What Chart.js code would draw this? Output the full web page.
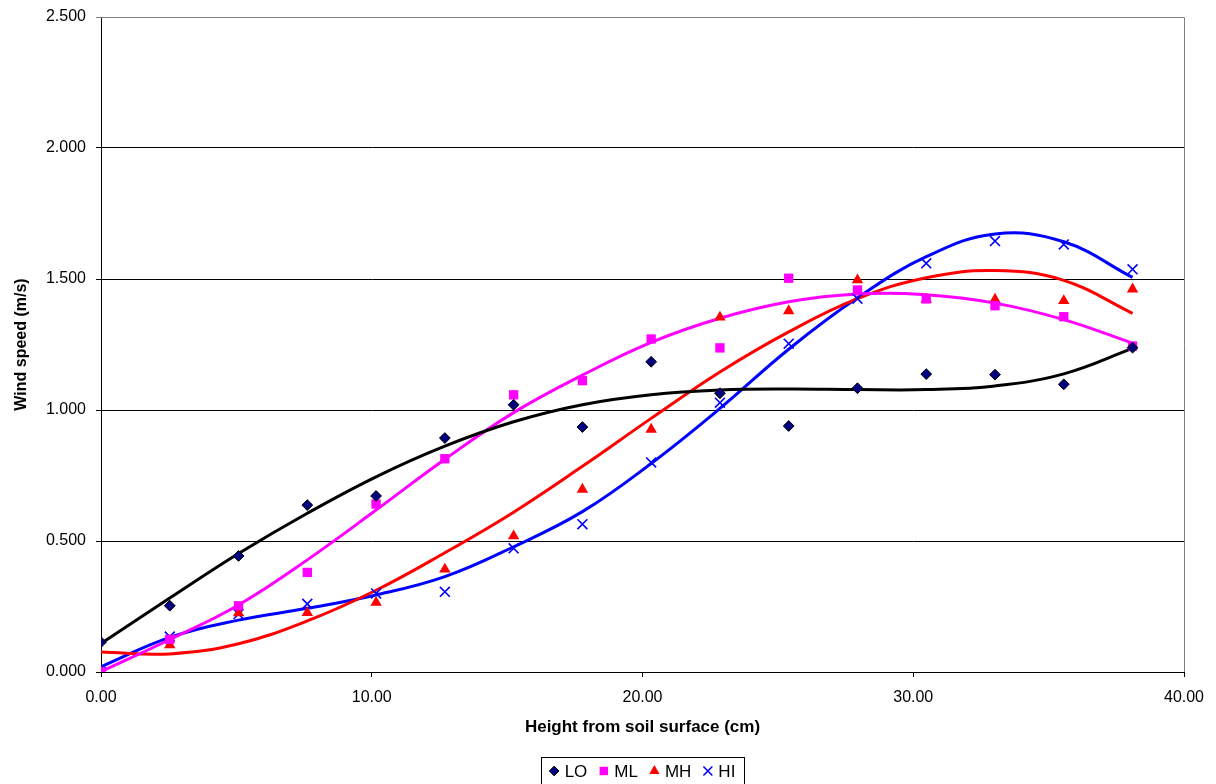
<!DOCTYPE html>
<html><head><meta charset="utf-8">
<script src="https://cdn.jsdelivr.net/npm/chart.js@4/dist/chart.umd.min.js"></script>
<style>html,body{margin:0;padding:0;background:#fff;overflow:hidden}</style>
</head><body>
<canvas id="c" width="1216" height="784" style="width:1216px;height:784px;display:block"></canvas>
<script>
// ---- data ----
const heights = [0, 2.54, 5.08, 7.62, 10.16, 12.70, 15.24, 17.78, 20.32, 22.86, 25.40, 27.94, 30.48, 33.02, 35.56, 38.10];
const seriesNames = ['LO', 'ML', 'MH', 'HI'];
const loValues = [0.114, 0.253, 0.443, 0.637, 0.672, 0.893, 1.020, 0.935, 1.184, 1.064, 0.939, 1.083, 1.137, 1.135, 1.098, 1.238];
const mlValues = [0.000, 0.125, 0.253, 0.380, 0.641, 0.814, 1.058, 1.112, 1.271, 1.237, 1.503, 1.458, 1.424, 1.398, 1.356, 1.244];
const mhValues = [0.000, 0.103, 0.225, 0.226, 0.265, 0.392, 0.519, 0.697, 0.926, 1.354, 1.378, 1.496, 1.422, 1.422, 1.417, 1.461];
const hiValues = [0.000, 0.135, 0.221, 0.260, 0.300, 0.306, 0.472, 0.564, 0.800, 1.028, 1.253, 1.425, 1.560, 1.645, 1.632, 1.537];
// trend lines at the same heights
const loTrend = [0.109, 0.282, 0.452, 0.606, 0.745, 0.862, 0.955, 1.020, 1.058, 1.076, 1.080, 1.078, 1.078, 1.092, 1.138, 1.235];
const mlTrend = [0.001, 0.124, 0.256, 0.428, 0.618, 0.812, 0.990, 1.133, 1.258, 1.350, 1.413, 1.443, 1.440, 1.408, 1.345, 1.255];
const mhTrend = [0.076, 0.069, 0.108, 0.195, 0.312, 0.455, 0.610, 0.785, 0.968, 1.145, 1.298, 1.425, 1.505, 1.532, 1.495, 1.369];
const hiTrend = [0.020, 0.132, 0.198, 0.243, 0.294, 0.364, 0.478, 0.612, 0.796, 1.006, 1.232, 1.428, 1.585, 1.672, 1.642, 1.506];
const xTicks = [0, 10, 20, 30, 40];
const yTicks = [0, 0.5, 1.0, 1.5, 2.0, 2.5];

const pts = v => heights.map((h, i) => ({x: h, y: v[i]}));

const styles = [
  {color: '#000000', fill: '#000080', border: '#000000', shape: 'rectRot', r: 5.4, bw: 1},
  {color: '#FF00FF', fill: '#FF00FF', border: '#FF00FF', shape: 'rect', r: 6.6, bw: 0},
  {color: '#FF0000', fill: '#FF0000', border: '#FF0000', shape: 'triangle', r: 6.6, bw: 0},
  {color: '#0000FF', fill: '#0000FF', border: '#0000FF', shape: 'crossRot', r: 7, bw: 1.6}
];
const values = [loValues, mlValues, mhValues, hiValues];
const trends = [loTrend, mlTrend, mhTrend, hiTrend];

const datasets = [];
trends.forEach((t, i) => datasets.push({
  label: seriesNames[i] + ' trend', isTrend: true, data: pts(t), showLine: true,
  borderColor: styles[i].color, borderWidth: 3, pointRadius: 0, tension: 0.4, order: 2, fill: false
}));
values.forEach((v, i) => datasets.push({
  label: seriesNames[i], data: pts(v), showLine: false, order: 1,
  pointStyle: styles[i].shape, pointRadius: styles[i].r, pointBackgroundColor: styles[i].fill,
  pointBorderColor: styles[i].border, pointBorderWidth: styles[i].bw
}));

Chart.defaults.font.family = '"Liberation Sans", Arial, sans-serif';
Chart.defaults.color = '#000';

const legendPlugin = {
  id: 'legendPlugin',
  afterDraw(chart) {
    const {ctx} = chart;
    ctx.save();
    const font = '17px "Liberation Sans", Arial, sans-serif';
    ctx.font = font;
    const items = datasets.filter(d => !d.isTrend);
    const markW = 11, gap = 5, spacing = 11;
    const widths = items.map(d => markW + gap + ctx.measureText(d.label).width);
    const total = widths.reduce((s, w) => s + w, 0) + spacing * (items.length - 1);
    const padX = 8;
    const cx = 642, cy = 771;
    let x = cx - total / 2;
    ctx.fillStyle = '#fff';
    ctx.fillRect(Math.round(x - padX), 757, Math.round(total + 2 * padX), 40);
    ctx.strokeStyle = '#000'; ctx.lineWidth = 1;
    ctx.strokeRect(Math.round(x - padX) + 0.5, 757.5, Math.round(total + 2 * padX), 40);
    items.forEach((d, i) => {
      const s = styles[i];
      ctx.save();
      ctx.fillStyle = s.fill; ctx.strokeStyle = s.border; ctx.lineWidth = s.bw || 0.01;
      Chart.helpers.drawPoint(ctx, {pointStyle: s.shape, radius: s.r * 0.9, borderWidth: s.bw}, x + markW / 2, cy);
      ctx.restore();
      ctx.fillStyle = '#000';
      ctx.textBaseline = 'middle'; ctx.textAlign = 'left';
      ctx.font = font;
      ctx.fillText(d.label, x + markW + gap, cy + 1);
      x += widths[i] + spacing;
    });
    ctx.restore();
  }
};

const borderPlugin = {
  id: 'borderPlugin',
  afterDraw(chart) {
    const {ctx, chartArea: a} = chart;
    ctx.save();
    ctx.strokeStyle = '#808080'; ctx.lineWidth = 1;
    ctx.beginPath();
    ctx.moveTo(a.left, a.top + 0.5); ctx.lineTo(a.right + 0.5, a.top + 0.5);
    ctx.lineTo(a.right + 0.5, a.bottom);
    ctx.stroke();
    ctx.restore();
  }
};

new Chart(document.getElementById('c'), {
  type: 'scatter',
  data: {datasets},
  options: {
    responsive: false, animation: false, devicePixelRatio: 1,
    layout: {padding: {left: 0, right: 32, top: 17, bottom: 0}},
    plugins: {legend: {display: false}, tooltip: {enabled: false}},
    scales: {
      x: {
        type: 'linear', min: 0, max: 40,
        afterFit(s) { s.height = 112; s.paddingLeft = 0; s.paddingRight = 0; },
        afterBuildTicks(s) { s.ticks = xTicks.map(v => ({value: v})); },
        ticks: {callback: v => Number(v).toFixed(2), font: {size: 16}, padding: 11, maxRotation: 0},
        grid: {drawOnChartArea: false, drawTicks: true, tickLength: 5, color: '#000'},
        border: {color: '#000', width: 1},
        title: {display: true, text: 'Height from soil surface (cm)', font: {size: 17, weight: 'bold'}, padding: {top: 0, bottom: 46}}
      },
      y: {
        type: 'linear', min: 0, max: 2.5,
        afterFit(s) { s.width = 101; s.paddingTop = 0; s.paddingBottom = 0; },
        afterBuildTicks(s) { s.ticks = yTicks.map(v => ({value: v})); },
        ticks: {callback: v => Number(v).toFixed(3), font: {size: 16}, padding: 10},
        grid: {color: c => (c.tick && c.tick.value === 2.5) ? '#808080' : '#000', tickLength: 5, lineWidth: 1},
        border: {color: '#000', width: 1},
        title: {display: true, text: 'Wind speed (m/s)', font: {size: 16, weight: 'bold'}, padding: {top: 12, bottom: 0}}
      }
    }
  },
  plugins: [borderPlugin, legendPlugin]
});
</script>
</body></html>
